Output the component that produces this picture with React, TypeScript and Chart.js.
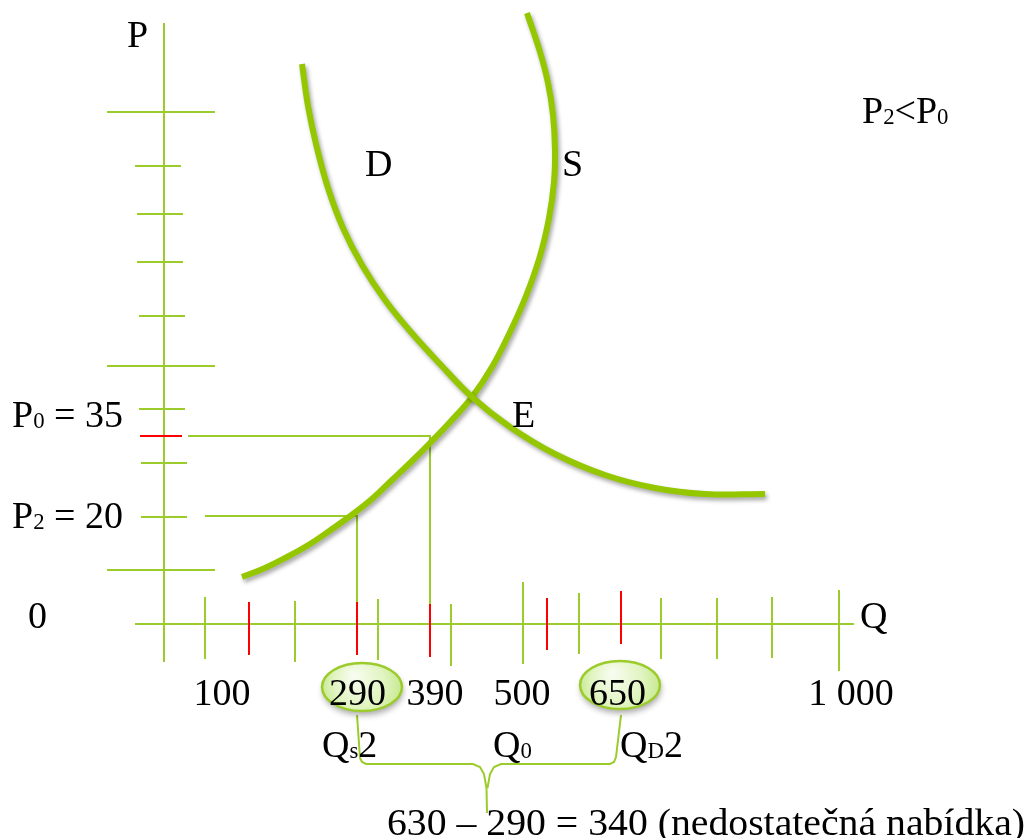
import React, { useEffect, useRef } from 'react';
import { Chart, registerables } from 'chart.js';

Chart.register(...registerables);

const W = 1031;
const H = 838;

// ---- Diagram data (diagram units: x 0..1031, y 0..838 from top) ----
const demandCurve: [number, number][] = [
  [302, 64], [308, 106], [316, 144], [328, 188], [343, 228], [362, 265], [385, 300],
  [410, 331], [440, 364], [472, 397], [510, 427], [555, 454], [605, 475], [655, 488],
  [705, 494], [765, 494],
];
const supplyCurve: [number, number][] = [
  [242, 577], [265, 568], [287, 557], [310, 544], [332, 529], [353, 514], [373, 498],
  [392, 480], [411, 462], [430, 443], [451, 421], [472, 397], [492, 367], [510, 332],
  [526, 296], [540, 256], [549, 218], [554, 182], [555, 150], [553, 115], [548, 83],
  [540, 52], [527, 13],
];

// axes
const pAxis: [number, number, number, number] = [164, 23, 164, 662];
const qAxis: [number, number, number, number] = [135, 624, 854, 624];

// P-axis ticks
const pTickY = [112, 166, 214, 262, 316, 366, 409, 463, 517, 570];
const pTickLeft = [107, 135, 137, 137, 139, 107, 139, 141, 141, 107];
const pTickRight = [215, 181, 183, 183, 185, 215, 185, 187, 187, 215];
const pRedTick: [number, number, number, number] = [140, 436, 182, 436];

// Q-axis ticks
const qTickX = [205, 295, 378, 451, 523, 579, 661, 717, 772, 839];
const qTickTop = [597, 601, 599, 604, 582, 593, 598, 598, 597, 590];
const qTickBottom = [659, 662, 660, 666, 664, 654, 659, 659, 658, 671];
const qRedTickX = [249, 357, 430, 547, 621];
const qRedTickTop = [602, 602, 604, 598, 591];
const qRedTickBottom = [655, 655, 657, 650, 644];

// guide lines from price levels down to quantities
const guideP0: [number, number][] = [[188, 436], [430, 436], [430, 604]];
const guideP2: [number, number][] = [[205, 516], [357, 516], [357, 602]];

// bracket under Qs2 .. QD2
const bracketLeft: [number, number][] = [
  [357, 715], [360, 758], [362, 762], [366, 764], [473, 764], [480, 767], [484, 774], [486.5, 788], [487, 813],
];
const bracketRight: [number, number][] = [
  [621, 715], [616, 757], [614, 762], [610, 764], [501, 764], [494, 767], [490, 774], [487.5, 788],
];

// tick labels on Q axis
const qTickLabels = ['100', '290', '390', '500', '650', '1 000'];
const qTickLabelX = [222, 357.5, 435, 522, 617.5, 851];
const qLabelBaseline = 705;

// highlighted quantities (ellipses)
const highlightCenters: [number, number][] = [[362, 687], [620, 685]];

type Seg = [string, 'n' | 's'];
type TextItem = { segs: Seg[]; x: number; y: number; align?: 'left' | 'center'; width?: number };

const textItems: TextItem[] = [
  { segs: [['P', 'n']], x: 127, y: 47 },
  { segs: [['Q', 'n']], x: 860, y: 628 },
  { segs: [['0', 'n']], x: 28, y: 628 },
  { segs: [['D', 'n']], x: 365, y: 176 },
  { segs: [['S', 'n']], x: 562, y: 176 },
  { segs: [['E', 'n']], x: 512, y: 427 },
  { segs: [['P', 'n'], ['0', 's'], [' = 35', 'n']], x: 12, y: 427 },
  { segs: [['P', 'n'], ['2', 's'], [' = 20', 'n']], x: 12, y: 528 },
  { segs: [['P', 'n'], ['2', 's'], ['<P', 'n'], ['0', 's']], x: 862, y: 123 },
  { segs: [['Q', 'n'], ['s', 's'], ['2', 'n']], x: 322, y: 757 },
  { segs: [['Q', 'n'], ['0', 's']], x: 493, y: 757 },
  { segs: [['Q', 'n'], ['D', 's'], ['2', 'n']], x: 620, y: 757 },
  { segs: [['630 – 290 = 340 (nedostatečná nabídka)', 'n']], x: 387, y: 835, width: 638 },
];

const GREEN = '#9ccb2c';
const CURVE = '#95c700';
const RED = '#ff0000';
const FONT_SIZE = 38;

const fontOf = (s: number) => `${s}px "Liberation Serif", "Times New Roman", serif`;

function segs(list: [number, number, number, number][]) {
  const out: { x: number; y: number | null }[] = [];
  list.forEach(([x1, y1, x2, y2]) => {
    out.push({ x: x1, y: y1 }, { x: x2, y: y2 }, { x: x2, y: null });
  });
  return out;
}
function poly(list: [number, number][][]) {
  const out: { x: number; y: number | null }[] = [];
  list.forEach((p) => {
    p.forEach(([x, y]) => out.push({ x, y }));
    out.push({ x: p[p.length - 1][0], y: null });
  });
  return out;
}

export default function App() {
  const ref = useRef<HTMLCanvasElement>(null);

  useEffect(() => {
    const canvas = ref.current;
    if (!canvas) return;

    const greenSegs: [number, number, number, number][] = [pAxis, qAxis];
    pTickY.forEach((y, i) => greenSegs.push([pTickLeft[i], y, pTickRight[i], y]));
    qTickX.forEach((x, i) => greenSegs.push([x, qTickTop[i], x, qTickBottom[i]]));
    const redSegs: [number, number, number, number][] = [pRedTick];
    qRedTickX.forEach((x, i) => redSegs.push([x, qRedTickTop[i], x, qRedTickBottom[i]]));

    const curveShadow = {
      id: 'curveShadow',
      beforeDatasetDraw(chart: any, args: any) {
        if (args.meta && chart.data.datasets[args.index]._shadow) {
          const ctx = chart.ctx;
          ctx.save();
          ctx.shadowColor = 'rgba(0,0,0,0.35)';
          ctx.shadowOffsetX = 2;
          ctx.shadowOffsetY = 3;
          ctx.shadowBlur = 4;
        }
      },
      afterDatasetDraw(chart: any, args: any) {
        if (args.meta && chart.data.datasets[args.index]._shadow) {
          chart.ctx.restore();
        }
      },
    };

    const overlay = {
      id: 'overlay',
      afterDraw(chart: any) {
        const ctx: CanvasRenderingContext2D = chart.ctx;
        const sx = chart.scales.x;
        const sy = chart.scales.y;
        // ellipses
        highlightCenters.forEach(([cxv, cyv]) => {
          const cx = sx.getPixelForValue(cxv);
          const cy = sy.getPixelForValue(cyv);
          const rx = Math.abs(sx.getPixelForValue(cxv + 40) - cx);
          const ry = Math.abs(sy.getPixelForValue(cyv + 24) - cy);
          ctx.save();
          const g = ctx.createRadialGradient(cx - rx * 0.2, cy - ry * 0.5, 2, cx, cy, rx * 1.05);
          g.addColorStop(0, '#f7fcef');
          g.addColorStop(0.6, '#e0f4bf');
          g.addColorStop(1, '#c4e88a');
          ctx.shadowColor = 'rgba(0,0,0,0.35)';
          ctx.shadowOffsetX = 1;
          ctx.shadowOffsetY = 4;
          ctx.shadowBlur = 6;
          ctx.beginPath();
          ctx.ellipse(cx, cy, rx, ry, 0, 0, Math.PI * 2);
          ctx.fillStyle = g;
          ctx.fill();
          ctx.shadowColor = 'transparent';
          ctx.lineWidth = 2.5;
          ctx.strokeStyle = GREEN;
          ctx.stroke();
          ctx.restore();
        });

        const drawRich = (s: Seg[], xv: number, yv: number, align: 'left' | 'center', width?: number) => {
          const subSize = FONT_SIZE * 0.6;
          const widths = s.map(([t, k]) => {
            ctx.font = fontOf(k === 's' ? subSize : FONT_SIZE);
            return ctx.measureText(t).width;
          });
          const total = widths.reduce((a, b) => a + b, 0);
          const scaleX = width ? width / total : 1;
          const px = sx.getPixelForValue(xv);
          const py = sy.getPixelForValue(yv);
          const start = align === 'center' ? px - (total * scaleX) / 2 : px;
          ctx.save();
          ctx.translate(start, py);
          ctx.scale(scaleX, 1);
          ctx.fillStyle = '#000';
          ctx.textAlign = 'left';
          ctx.textBaseline = 'alphabetic';
          let cx = 0;
          s.forEach(([t, k], i) => {
            ctx.font = fontOf(k === 's' ? subSize : FONT_SIZE);
            ctx.fillText(t, cx, k === 's' ? 1 : 0);
            cx += widths[i];
          });
          ctx.restore();
        };

        qTickLabels.forEach((t, i) => drawRich([[t, 'n']], qTickLabelX[i], qLabelBaseline, 'center'));
        textItems.forEach((it) => drawRich(it.segs, it.x, it.y, it.align || 'left', it.width));
      },
    };

    const chart = new Chart(canvas, {
      type: 'line',
      data: {
        datasets: [
          {
            label: 'D',
            data: demandCurve.map(([x, y]) => ({ x, y })),
            borderColor: CURVE,
            borderWidth: 6,
            tension: 0.4,
            pointRadius: 0,
            borderCapStyle: 'butt',
            order: 0,
            clip: false,
            _shadow: true,
          } as any,
          {
            label: 'S',
            data: supplyCurve.map(([x, y]) => ({ x, y })),
            borderColor: CURVE,
            borderWidth: 6,
            tension: 0.4,
            pointRadius: 0,
            borderCapStyle: 'butt',
            order: 0,
            clip: false,
            _shadow: true,
          } as any,
          {
            label: 'red ticks',
            data: segs(redSegs),
            borderColor: RED,
            borderWidth: 2,
            tension: 0,
            pointRadius: 0,
            spanGaps: false,
            order: 1,
            clip: false,
          } as any,
          {
            label: 'guides',
            data: poly([guideP0, guideP2, bracketLeft, bracketRight]),
            borderColor: GREEN,
            borderWidth: 2,
            tension: 0,
            pointRadius: 0,
            spanGaps: false,
            order: 2,
            clip: false,
          } as any,
          {
            label: 'axes',
            data: segs(greenSegs),
            borderColor: GREEN,
            borderWidth: 2,
            tension: 0,
            pointRadius: 0,
            spanGaps: false,
            order: 3,
            clip: false,
          } as any,
        ],
      },
      options: {
        animation: false,
        responsive: false,
        devicePixelRatio: 1,
        events: [],
        layout: { padding: 0 },
        plugins: { legend: { display: false }, tooltip: { enabled: false } },
        scales: {
          x: { type: 'linear', min: 0, max: W, display: false },
          y: { type: 'linear', min: 0, max: H, reverse: true, display: false },
        },
      },
      plugins: [curveShadow, overlay],
    });

    return () => chart.destroy();
  }, []);

  return (
    <div style={{ position: 'fixed', left: 0, top: 0, width: W, height: H, background: '#fff' }}>
      <canvas ref={ref} width={W} height={H} style={{ display: 'block', width: W, height: H }} />
    </div>
  );
}
